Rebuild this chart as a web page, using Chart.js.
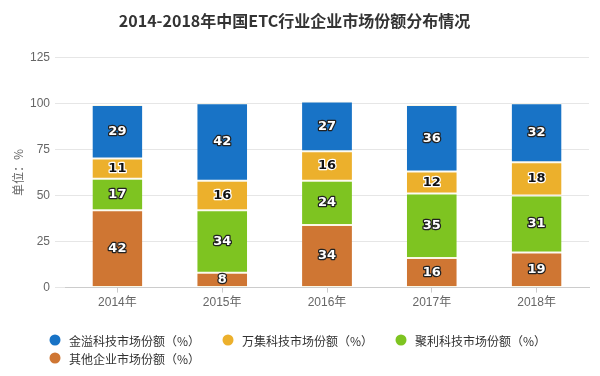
<!DOCTYPE html>
<html>
<head>
<meta charset="utf-8">
<script src="https://cdn.jsdelivr.net/npm/chart.js@4"></script>
<style>
  body { margin: 0; background: #fff; }
</style>
</head>
<body>
<canvas id="myChart" width="600" height="376"></canvas>
<script>
const ctx = document.getElementById("myChart");

// 年份
const years = ["2014年", "2015年", "2016年", "2017年", "2018年"];

// 各企业市场份额 (%)
const jinyi = [29, 42, 27, 36, 32];
const wanji = [11, 16, 16, 12, 18];
const juli = [17, 34, 24, 35, 31];
const other = [42, 8, 34, 16, 19];

const yTicks = [0, 25, 50, 75, 100, 125];

Chart.defaults.font.family = '"Liberation Sans", "Noto Sans CJK SC", sans-serif';
Chart.defaults.font.size = 12;
Chart.defaults.color = "#666";

// labels inside each segment
const segmentLabels = {
  id: "segmentLabels",
  afterDatasetsDraw(chart) {
    const c = chart.ctx;
    c.save();
    c.font = 'bold 13px "DejaVu Sans", sans-serif';
    c.textAlign = "center";
    c.textBaseline = "middle";
    c.lineJoin = "round";
    chart.data.datasets.forEach((ds, i) => {
      const meta = chart.getDatasetMeta(i);
      meta.data.forEach((bar, j) => {
        const p = bar.getProps(["x", "y", "base"], true);
        const cy = (p.y + p.base) / 2;
        const txt = String(ds.data[j]);
        c.lineWidth = 2.5;
        c.strokeStyle = ds.darkText ? "#fff" : "#222";
        c.strokeText(txt, p.x, cy);
        c.fillStyle = ds.darkText ? "#111" : "#fff";
        c.fillText(txt, p.x, cy);
      });
    });
    c.restore();
  },
};

// legend below the plot, laid out like the original
const bottomLegend = {
  id: "bottomLegend",
  afterDraw(chart) {
    const c = chart.ctx;
    const items = chart.data.datasets.slice().reverse();
    c.save();
    c.font = '12px "Noto Sans CJK SC", sans-serif';
    c.textBaseline = "middle";
    c.textAlign = "left";
    items.forEach((ds, k) => {
      const col = k % 3;
      const row = Math.floor(k / 3);
      const x = 55 + col * 173;
      const y = chart.height - 36 + row * 18;
      c.beginPath();
      c.arc(x, y, 5.5, 0, Math.PI * 2);
      c.fillStyle = ds.backgroundColor;
      c.fill();
      c.fillStyle = "#333";
      c.fillText(ds.label, x + 14, y + 1);
    });
    c.restore();
  },
};

const chart = new Chart(ctx, {
  type: "bar",
  data: {
    labels: years,
    datasets: [
      {
        label: "其他企业市场份额（%）",
        data: other,
        backgroundColor: "#cf7633",
      },
      {
        label: "聚利科技市场份额（%）",
        data: juli,
        backgroundColor: "#7ec421",
      },
      {
        label: "万集科技市场份额（%）",
        data: wanji,
        backgroundColor: "#ecb02c",
        darkText: true,
      },
      {
        label: "金溢科技市场份额（%）",
        data: jinyi,
        backgroundColor: "#1873c6",
      },
    ],
  },
  options: {
    responsive: false,
    animation: false,
    barPercentage: 0.476,
    categoryPercentage: 1,
    datasets: {
      bar: {
        borderColor: "#fbf8e6",
        borderWidth: { top: 1, bottom: 1, left: 0, right: 0 },
        borderSkipped: false,
      },
    },
    layout: {
      padding: { left: 0, right: 11, top: 0, bottom: 63 },
    },
    plugins: {
      legend: { display: false },
      tooltip: { enabled: false },
      title: {
        display: true,
        text: "2014-2018年中国ETC行业企业市场份额分布情况",
        color: "#333",
        font: { size: 16, weight: "bold", family: '"Noto Sans CJK SC", sans-serif' },
        padding: { top: 11, bottom: 27 },
      },
    },
    scales: {
      x: {
        stacked: true,
        grid: {
          offset: false,
          drawOnChartArea: false,
          tickLength: 5,
          color: "#ccc",
        },
        border: { color: "#ccc" },
        ticks: { padding: 3, color: "#666" },
      },
      y: {
        stacked: true,
        min: 0,
        max: 125,
        afterBuildTicks(scale) {
          scale.ticks = yTicks.map((v) => ({ value: v }));
        },
        afterFit(scale) {
          scale.width = 65;
        },
        grid: { color: "#e6e6e6", tickLength: 10 },
        border: { display: false },
        ticks: { padding: 5, color: "#666" },
        title: {
          display: true,
          text: "单位：%",
          color: "#666",
          font: { size: 12, family: '"Noto Sans CJK SC", sans-serif' },
          padding: { top: 11, bottom: 0 },
        },
      },
    },
  },
  plugins: [segmentLabels, bottomLegend],
});
</script>
</body>
</html>
